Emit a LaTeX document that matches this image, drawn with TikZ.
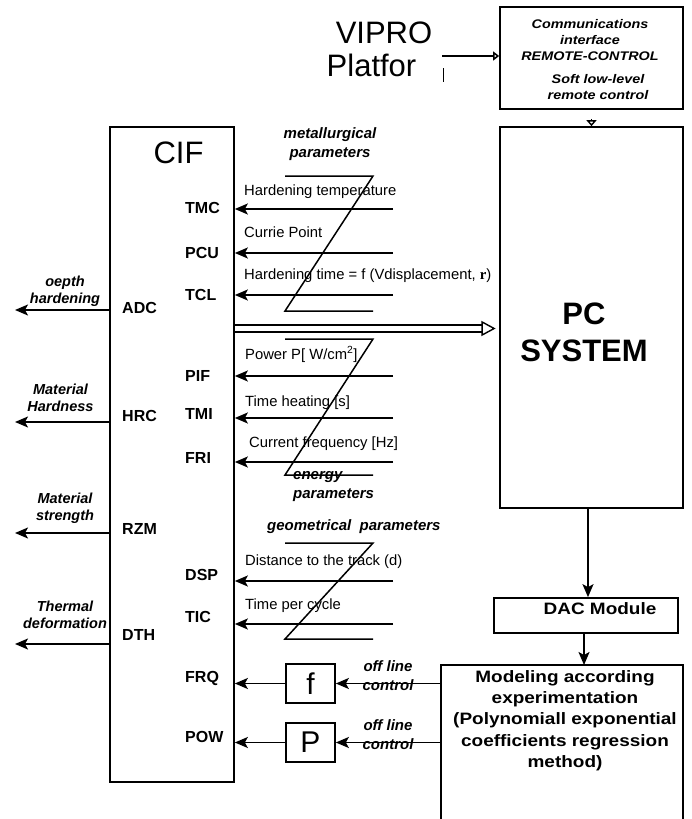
\documentclass[tikz,border=0pt]{standalone}
\usepackage{fontspec}
\setmainfont{Liberation Sans}
\newfontfamily\widesans[FakeStretch=1.15]{Liberation Sans}
\newfontfamily\serifr{Liberation Serif}
\usetikzlibrary{arrows.meta,calc}
\begin{document}
\begin{tikzpicture}[x=1pt,y=-1pt,
  bx/.style={draw, line width=1.7pt, inner sep=0pt},
  arr/.style={line width=1.7pt, -{Stealth[length=13pt,width=11pt,inset=3pt]}},
  zig/.style={line width=1.5pt},
  sig/.style={font=\fontsize{16}{19}\selectfont\bfseries, anchor=west, inner sep=0pt},
  ptext/.style={font=\fontsize{14.8}{17}\selectfont, anchor=base west, inner sep=0pt},
  grp/.style={font=\fontsize{15}{19}\selectfont\bfseries\itshape, inner sep=0pt, align=center},
  outl/.style={font=\fontsize{14.5}{17}\selectfont\bfseries\itshape, inner sep=0pt, align=center},
  commtext/.style={font=\widesans\fontsize{12.5}{16}\selectfont\bfseries\itshape, inner sep=0pt, align=center},
  big/.style={font=\fontsize{31}{36}\selectfont, inner sep=0pt},
]
\useasboundingbox (0,0) rectangle (691,819);

% ---- main boxes
\node[bx, minimum width=124pt, minimum height=655pt] (cif) at (172,454.5) {};
\node[big] (ciflbl) at (178.5,153) {CIF};

\node[bx, minimum width=183pt, minimum height=381pt] (pc) at (591.5,317.5) {};
\node[font=\fontsize{31}{37}\selectfont\bfseries, align=center, inner sep=0pt] (pclbl) at (584,332.5) {PC\\SYSTEM};

\node[bx, minimum width=183pt, minimum height=102pt] (comm) at (591.5,58) {};
\node[commtext] (c1) at (590,40) {Communications\\interface\\REMOTE-CONTROL};
\node[commtext] (c2) at (598,87) {Soft low-level\\remote control};

\node[big] (vipro) at (384,32.5) {VIPRO};
\node[big] (platfor) at (371.5,65.5) {Platfor};
\coordinate (vstart) at (442,56);
\draw[line width=1.6pt, -{Triangle[open,length=6pt,width=9pt]}] (vstart) -- (vstart -| comm.west);
\draw[line width=1pt] (443,68) -- (443,82);

\draw[line width=1.4pt, shorten <=9pt, -{Triangle[open,length=6pt,width=10pt]}] (comm.south) -- (pc.north);

% ---- double arrow CIF -> PC
\coordinate (dbl) at (0,328.5);
\draw[line width=1.4pt] ($(cif.east|-dbl)+(0,-3.4)$) -- ($(pc.west|-dbl)+(-17,-3.4)$);
\draw[line width=1.4pt] ($(cif.east|-dbl)+(0,3.4)$) -- ($(pc.west|-dbl)+(-17,3.4)$);
\draw[line width=1.4pt, fill=white] ($(pc.west|-dbl)+(-17,-6.5)$) -- ($(pc.west|-dbl)+(-5,0)$) -- ($(pc.west|-dbl)+(-17,6.5)$) -- cycle;

% ---- input signals (right side of CIF)
\node[sig] (tmc) at (185,207.5) {TMC};
\node[sig] (pcu) at (185,252.5) {PCU};
\node[sig] (tcl) at (185,295) {TCL};
\node[sig] (pif) at (185,376) {PIF};
\node[sig] (tmi) at (185,413.5) {TMI};
\node[sig] (fri) at (185,458) {FRI};
\node[sig] (dsp) at (185,575) {DSP};
\node[sig] (tic) at (185,617) {TIC};
\node[sig] (frq) at (185,678) {FRQ};
\node[sig] (pow) at (185,737) {POW};

\coordinate (tmcIn) at (393,209);
\coordinate (pcuIn) at (393,253);
\coordinate (tclIn) at (393,295);
\coordinate (pifIn) at (393,376);
\coordinate (tmiIn) at (393,418);
\coordinate (friIn) at (393,462);
\coordinate (dspIn) at (393,581);
\coordinate (ticIn) at (393,624);
\foreach \c in {tmcIn,pcuIn,tclIn,pifIn,tmiIn,friIn,dspIn,ticIn}
  \draw[arr] (\c) -- (\c -| cif.east);

% ---- zigzags
\draw[zig] (285,176) -- (373,176) -- (285,311) -- (373,311);
\draw[zig] (285,339) -- (373,339) -- (285,475) -- (373,475);
\draw[zig] (285,543) -- (373,543) -- (285,639) -- (373,639);

% ---- parameter texts
\node[ptext] (t1) at (244,195) {Hardening temperature};
\node[ptext] (t2) at (244,237) {Currie Point};
\node[ptext] (t3) at (244,279) {Hardening time = f (Vdisplacement, {\serifr\bfseries r})};
\node[ptext] (t4) at (245,359) {Power P[ W/cm\textsuperscript{2}]};
\node[ptext] (t5) at (245,406) {Time heating [s]};
\node[ptext] (t6) at (249,447) {Current frequency [Hz]};
\node[ptext] (t7) at (245,565) {Distance to the track (d)};
\node[ptext] (t8) at (245,609) {Time per cycle};

\node[grp] (gmet) at (330,144.5) {metallurgical\\parameters};
\node[grp, align=left, anchor=west] (gen) at (293,487) {energy\\parameters};
\node[grp, anchor=base west] (ggeo) at (267,530) {geometrical\ \ parameters};

% ---- outputs (left side)
\node[sig] (adc) at (122,307.5) {ADC};
\node[sig] (hrc) at (122,416) {HRC};
\node[sig] (rzm) at (122,529) {RZM};
\node[sig] (dth) at (122,635) {DTH};
\coordinate (adcOut) at (15,310);
\coordinate (hrcOut) at (15,422);
\coordinate (rzmOut) at (15,533);
\coordinate (dthOut) at (15,644);
\foreach \c in {adcOut,hrcOut,rzmOut,dthOut}
  \draw[arr] (\c -| cif.west) -- (\c);
\node[outl] (o1) at (65,291) {oepth\\hardening};
\node[outl] (o2) at (60.5,398) {Material\\Hardness};
\node[outl] (o3) at (65,508) {Material\\strength};
\node[outl] (o4) at (65,615) {Thermal\\deformation};

% ---- DAC and modeling
\node[bx, minimum width=184pt, minimum height=35pt] (dac) at (586,615.5) {};
\node[font=\widesans\fontsize{16.5}{20}\selectfont\bfseries, inner sep=0pt] (daclbl) at (600,609) {DAC Module};
\coordinate (pcd) at (588,0);
\draw[arr] (pc.south -| pcd) -- (dac.north -| pcd);

\coordinate (modNW) at (441,665);
\coordinate (modNE) at (683,665);
\coordinate (modTop) at (584,665);
\draw[line width=1.7pt] (441,830) -- (modNW) -- (modNE) -- (683,830);
\node[font=\widesans\fontsize{16.5}{21.3}\selectfont\bfseries, align=center, inner sep=0pt] (mod) at (565,720.5)
  {Modeling according\\experimentation\\(Polynomiall exponential\\coefficients regression\\method)};
\draw[arr] (dac.south -| modTop) -- (modTop);

% ---- f and P boxes
\node[bx, minimum width=49pt, minimum height=39pt, font=\fontsize{30}{36}\selectfont] (fbox) at (310.5,683.5) {f};
\node[bx, minimum width=49pt, minimum height=39pt, font=\fontsize{30}{36}\selectfont] (pbox) at (310.5,742.5) {P};
\draw[arr] (fbox.west) -- (fbox.west -| cif.east);
\draw[arr] (pbox.west) -- (pbox.west -| cif.east);
\draw[arr] (modNW |- fbox.east) -- (fbox.east);
\draw[arr] (modNW |- pbox.east) -- (pbox.east);
\node[grp] (ol1) at (388,676) {off line\\control};
\node[grp] (ol2) at (388,735) {off line\\control};
\end{tikzpicture}
\end{document}
